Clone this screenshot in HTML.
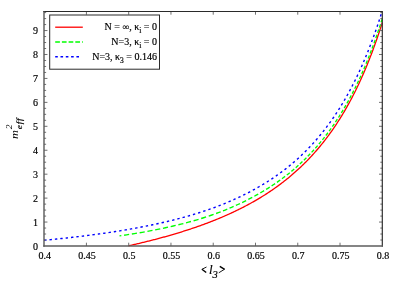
<!DOCTYPE html>
<html><head><meta charset="utf-8"><title>plot</title>
<style>
html,body{margin:0;padding:0;background:#fff;}
svg{display:block;will-change:transform;}
text{font-family:"Liberation Serif",serif;fill:#000;stroke:#000;stroke-width:0.18px;}
</style></head><body>
<svg width="399" height="281" viewBox="0 0 399 281">
<rect x="0" y="0" width="399" height="281" fill="#fff"/>
<path d="M128.40,245.85 L129.25,245.66 L130.10,245.47 L130.95,245.27 L131.80,245.08 L132.65,244.89 L133.49,244.69 L134.34,244.50 L135.19,244.30 L136.04,244.11 L136.89,243.91 L137.74,243.71 L138.59,243.51 L139.44,243.31 L140.29,243.10 L141.14,242.90 L141.99,242.70 L142.84,242.49 L143.68,242.29 L144.53,242.08 L145.38,241.87 L146.23,241.66 L147.08,241.45 L147.93,241.24 L148.78,241.03 L149.63,240.81 L150.48,240.60 L151.33,240.38 L152.18,240.16 L153.03,239.95 L153.87,239.73 L154.72,239.51 L155.57,239.28 L156.42,239.06 L157.27,238.84 L158.12,238.61 L158.97,238.39 L159.82,238.16 L160.67,237.93 L161.52,237.70 L162.37,237.47 L163.22,237.23 L164.06,237.00 L164.91,236.76 L165.76,236.53 L166.61,236.29 L167.46,236.05 L168.31,235.81 L169.16,235.57 L170.01,235.32 L170.86,235.08 L171.71,234.83 L172.56,234.59 L173.41,234.34 L174.25,234.09 L175.10,233.83 L175.95,233.58 L176.80,233.33 L177.65,233.07 L178.50,232.81 L179.35,232.55 L180.20,232.29 L181.05,232.03 L181.90,231.76 L182.75,231.50 L183.60,231.23 L184.44,230.96 L185.29,230.69 L186.14,230.42 L186.99,230.14 L187.84,229.87 L188.69,229.59 L189.54,229.31 L190.39,229.03 L191.24,228.75 L192.09,228.46 L192.94,228.18 L193.79,227.89 L194.63,227.60 L195.48,227.31 L196.33,227.02 L197.18,226.72 L198.03,226.42 L198.88,226.12 L199.73,225.82 L200.58,225.52 L201.43,225.21 L202.28,224.91 L203.13,224.60 L203.98,224.29 L204.82,223.97 L205.67,223.66 L206.52,223.34 L207.37,223.02 L208.22,222.70 L209.07,222.37 L209.92,222.05 L210.77,221.72 L211.62,221.39 L212.47,221.06 L213.32,220.72 L214.17,220.38 L215.01,220.04 L215.86,219.70 L216.71,219.36 L217.56,219.01 L218.41,218.66 L219.26,218.31 L220.11,217.95 L220.96,217.59 L221.81,217.23 L222.66,216.87 L223.51,216.51 L224.36,216.14 L225.20,215.77 L226.05,215.40 L226.90,215.02 L227.75,214.64 L228.60,214.26 L229.45,213.88 L230.30,213.49 L231.15,213.10 L232.00,212.70 L232.85,212.31 L233.70,211.91 L234.55,211.51 L235.39,211.10 L236.24,210.69 L237.09,210.28 L237.94,209.87 L238.79,209.45 L239.64,209.03 L240.49,208.61 L241.34,208.18 L242.19,207.75 L243.04,207.31 L243.89,206.88 L244.74,206.43 L245.58,205.99 L246.43,205.54 L247.28,205.09 L248.13,204.63 L248.98,204.17 L249.83,203.71 L250.68,203.24 L251.53,202.77 L252.38,202.30 L253.23,201.82 L254.08,201.34 L254.93,200.85 L255.77,200.36 L256.62,199.87 L257.47,199.37 L258.32,198.86 L259.17,198.36 L260.02,197.84 L260.87,197.33 L261.72,196.81 L262.57,196.28 L263.42,195.75 L264.27,195.22 L265.12,194.68 L265.96,194.14 L266.81,193.59 L267.66,193.04 L268.51,192.48 L269.36,191.91 L270.21,191.35 L271.06,190.77 L271.91,190.19 L272.76,189.61 L273.61,189.02 L274.46,188.43 L275.31,187.83 L276.15,187.22 L277.00,186.61 L277.85,186.00 L278.70,185.37 L279.55,184.75 L280.40,184.11 L281.25,183.47 L282.10,182.83 L282.95,182.18 L283.80,181.52 L284.65,180.85 L285.50,180.18 L286.34,179.51 L287.19,178.82 L288.04,178.13 L288.89,177.44 L289.74,176.73 L290.59,176.02 L291.44,175.30 L292.29,174.58 L293.14,173.85 L293.99,173.11 L294.84,172.36 L295.69,171.61 L296.53,170.85 L297.38,170.08 L298.23,169.30 L299.08,168.52 L299.93,167.72 L300.78,166.92 L301.63,166.11 L302.48,165.29 L303.33,164.47 L304.18,163.63 L305.03,162.79 L305.88,161.94 L306.72,161.08 L307.57,160.21 L308.42,159.33 L309.27,158.44 L310.12,157.54 L310.97,156.63 L311.82,155.71 L312.67,154.78 L313.52,153.84 L314.37,152.90 L315.22,151.94 L316.07,150.97 L316.91,149.99 L317.76,149.00 L318.61,147.99 L319.46,146.98 L320.31,145.96 L321.16,144.92 L322.01,143.87 L322.86,142.81 L323.71,141.74 L324.56,140.65 L325.41,139.56 L326.26,138.45 L327.10,137.32 L327.95,136.19 L328.80,135.04 L329.65,133.88 L330.50,132.70 L331.35,131.51 L332.20,130.30 L333.05,129.08 L333.90,127.85 L334.75,126.60 L335.60,125.34 L336.45,124.06 L337.29,122.76 L338.14,121.45 L338.99,120.13 L339.84,118.78 L340.69,117.42 L341.54,116.05 L342.39,114.65 L343.24,113.24 L344.09,111.81 L344.94,110.36 L345.79,108.89 L346.64,107.41 L347.48,105.90 L348.33,104.38 L349.18,102.84 L350.03,101.27 L350.88,99.69 L351.73,98.08 L352.58,96.45 L353.43,94.81 L354.28,93.14 L355.13,91.44 L355.98,89.73 L356.83,87.99 L357.67,86.23 L358.52,84.44 L359.37,82.63 L360.22,80.79 L361.07,78.93 L361.92,77.04 L362.77,75.13 L363.62,73.19 L364.47,71.22 L365.32,69.22 L366.17,67.20 L367.02,65.14 L367.86,63.06 L368.71,60.95 L369.56,58.80 L370.41,56.63 L371.26,54.42 L372.11,52.18 L372.96,49.91 L373.81,47.60 L374.66,45.26 L375.51,42.88 L376.36,40.47 L377.21,38.02 L378.05,35.53 L378.90,33.01 L379.75,30.45 L380.60,27.84 L381.45,25.20 L382.30,22.51" fill="none" stroke="#f00" stroke-width="1.3"/>
<path d="M119.50,235.88 L121.34,235.62 M124.10,235.22 L126.60,234.84 L129.16,234.45 M131.85,234.03 L134.42,233.61 L136.98,233.19 M139.67,232.74 L142.17,232.31 L144.74,231.85 M147.43,231.37 L149.93,230.90 L152.49,230.42 M155.18,229.89 L157.68,229.39 L160.24,228.87 M162.94,228.31 L165.44,227.77 L168.00,227.21 M170.69,226.60 L173.19,226.03 L175.69,225.44 M178.38,224.78 L180.88,224.16 L183.38,223.53 M186.01,222.84 L188.50,222.17 L191.00,221.49 M193.63,220.75 L196.06,220.04 L198.56,219.30 M201.19,218.50 L203.62,217.74 L206.11,216.94 M208.74,216.07 L211.17,215.25 L213.61,214.40 M216.10,213.50 L218.34,212.68 L220.64,211.81 M223.00,210.89 L225.11,210.06 L227.27,209.17 M229.51,208.24 L231.55,207.37 L233.65,206.45 M235.88,205.44 L237.92,204.51 L239.96,203.56 M242.13,202.52 L244.10,201.56 L246.14,200.54 M248.30,199.44 L250.28,198.42 L252.25,197.37 M254.35,196.24 L256.26,195.19 L258.23,194.08 M260.33,192.88 L262.24,191.76 L264.14,190.63 M266.11,189.42 L267.89,188.32 L269.73,187.15 M271.63,185.92 L273.34,184.79 L275.12,183.59 M276.96,182.33 L278.60,181.17 L280.24,180.00 M282.02,178.70 L283.53,177.58 L285.11,176.38 M286.81,175.06 L288.26,173.92 L289.77,172.71 M291.41,171.36 L292.79,170.21 L294.24,168.98 M295.75,167.68 L297.07,166.52 L298.45,165.28 M299.89,163.97 L302.45,161.57 M303.90,160.18 L306.40,157.73 M307.78,156.33 L310.27,153.75 M311.59,152.35 L314.02,149.71 M315.33,148.24 L317.64,145.61 M318.88,144.15 L321.18,141.38 M322.43,139.85 L324.60,137.12 M325.85,135.51 L327.95,132.73 M329.14,131.13 L331.17,128.31 M332.36,126.64 L334.33,123.78 M335.44,122.13 L337.35,119.24 M338.47,117.51 L340.31,114.60 M341.36,112.90 L343.20,109.86 M344.18,108.19 L345.96,105.13 M346.94,103.40 L348.65,100.33 M349.64,98.52 L351.28,95.44 M352.20,93.68 L353.78,90.60 M354.70,88.78 L356.21,85.71 M357.13,83.81 L358.58,80.76 M359.43,78.93 L360.88,75.77 M361.73,73.86 L363.11,70.73 M363.90,68.91 L365.28,65.66 M366.07,63.77 L367.38,60.56 M368.17,58.61 L369.42,55.45 M370.14,53.59 L371.39,50.33 M372.11,48.41 L373.30,45.21 M374.02,43.23 L375.20,39.92 M375.86,38.05 L376.98,34.83 M377.63,32.90 L378.75,29.58 M379.41,27.59 L380.46,24.36 M381.12,22.31 L382.10,19.18" fill="none" stroke="#0f0" stroke-width="1.35"/>
<path d="M44.15,240.27 L45.28,240.16 L46.41,240.05 L47.54,239.94 L48.67,239.83 L49.80,239.72 L50.94,239.61 L52.07,239.50 L53.20,239.39 L54.33,239.27 L55.46,239.16 L56.59,239.04 L57.72,238.92 L58.85,238.81 L59.98,238.69 L61.11,238.57 L62.24,238.45 L63.38,238.33 L64.51,238.21 L65.64,238.08 L66.77,237.96 L67.90,237.83 L69.03,237.71 L70.16,237.58 L71.29,237.45 L72.42,237.32 L73.55,237.19 L74.69,237.06 L75.82,236.93 L76.95,236.80 L78.08,236.66 L79.21,236.53 L80.34,236.39 L81.47,236.25 L82.60,236.11 L83.73,235.97 L84.86,235.83 L85.99,235.69 L87.13,235.55 L88.26,235.40 L89.39,235.26 L90.52,235.11 L91.65,234.96 L92.78,234.81 L93.91,234.66 L95.04,234.51 L96.17,234.36 L97.30,234.20 L98.43,234.05 L99.57,233.89 L100.70,233.73 L101.83,233.57 L102.96,233.41 L104.09,233.25 L105.22,233.09 L106.35,232.92 L107.48,232.75 L108.61,232.59 L109.74,232.42 L110.88,232.25 L112.01,232.07 L113.14,231.90 L114.27,231.73 L115.40,231.55 L116.53,231.37 L117.66,231.19 L118.79,231.01 L119.92,230.83 L121.05,230.64 L122.18,230.46 L123.32,230.27 L124.45,230.08 L125.58,229.89 L126.71,229.69 L127.84,229.50 L128.97,229.30 L130.10,229.11 L131.23,228.91 L132.36,228.70 L133.49,228.50 L134.62,228.30 L135.76,228.09 L136.89,227.88 L138.02,227.67 L139.15,227.46 L140.28,227.24 L141.41,227.03 L142.54,226.81 L143.67,226.59 L144.80,226.36 L145.93,226.14 L147.07,225.91 L148.20,225.68 L149.33,225.45 L150.46,225.22 L151.59,224.98 L152.72,224.75 L153.85,224.51 L154.98,224.27 L156.11,224.02 L157.24,223.77 L158.37,223.53 L159.51,223.27 L160.64,223.02 L161.77,222.76 L162.90,222.51 L164.03,222.24 L165.16,221.98 L166.29,221.72 L167.42,221.45 L168.55,221.18 L169.68,220.90 L170.81,220.63 L171.95,220.35 L173.08,220.06 L174.21,219.78 L175.34,219.49 L176.47,219.20 L177.60,218.91 L178.73,218.61 L179.86,218.31 L180.99,218.01 L182.12,217.70 L183.26,217.40 L184.39,217.08 L185.52,216.77 L186.65,216.45 L187.78,216.13 L188.91,215.81 L190.04,215.48 L191.17,215.15 L192.30,214.81 L193.43,214.48 L194.56,214.13 L195.70,213.79 L196.83,213.44 L197.96,213.09 L199.09,212.73 L200.22,212.37 L201.35,212.01 L202.48,211.64 L203.61,211.27 L204.74,210.89 L205.87,210.51 L207.00,210.13 L208.14,209.74 L209.27,209.34 L210.40,208.95 L211.53,208.55 L212.66,208.14 L213.79,207.73 L214.92,207.31 L216.05,206.89 L217.18,206.47 L218.31,206.04 L219.45,205.60 L220.58,205.16 L221.71,204.72 L222.84,204.27 L223.97,203.82 L225.10,203.35 L226.23,202.89 L227.36,202.42 L228.49,201.94 L229.62,201.46 L230.75,200.97 L231.89,200.48 L233.02,199.98 L234.15,199.47 L235.28,198.96 L236.41,198.45 L237.54,197.92 L238.67,197.39 L239.80,196.86 L240.93,196.32 L242.06,195.77 L243.19,195.22 L244.33,194.66 L245.46,194.09 L246.59,193.52 L247.72,192.94 L248.85,192.35 L249.98,191.76 L251.11,191.16 L252.24,190.56 L253.37,189.94 L254.50,189.32 L255.64,188.69 L256.77,188.06 L257.90,187.41 L259.03,186.76 L260.16,186.11 L261.29,185.44 L262.42,184.76 L263.55,184.08 L264.68,183.39 L265.81,182.69 L266.94,181.98 L268.08,181.27 L269.21,180.54 L270.34,179.80 L271.47,179.06 L272.60,178.31 L273.73,177.54 L274.86,176.77 L275.99,175.99 L277.12,175.19 L278.25,174.39 L279.38,173.57 L280.52,172.75 L281.65,171.91 L282.78,171.06 L283.91,170.20 L285.04,169.33 L286.17,168.45 L287.30,167.56 L288.43,166.65 L289.56,165.73 L290.69,164.80 L291.83,163.86 L292.96,162.90 L294.09,161.93 L295.22,160.95 L296.35,159.95 L297.48,158.94 L298.61,157.91 L299.74,156.87 L300.87,155.81 L302.00,154.74 L303.13,153.65 L304.27,152.55 L305.40,151.43 L306.53,150.30 L307.66,149.15 L308.79,147.98 L309.92,146.79 L311.05,145.59 L312.18,144.37 L313.31,143.13 L314.44,141.87 L315.57,140.60 L316.71,139.30 L317.84,137.98 L318.97,136.65 L320.10,135.29 L321.23,133.91 L322.36,132.51 L323.49,131.09 L324.62,129.64 L325.75,128.18 L326.88,126.69 L328.02,125.17 L329.15,123.63 L330.28,122.07 L331.41,120.48 L332.54,118.87 L333.67,117.23 L334.80,115.56 L335.93,113.87 L337.06,112.14 L338.19,110.39 L339.32,108.61 L340.46,106.80 L341.59,104.96 L342.72,103.08 L343.85,101.18 L344.98,99.24 L346.11,97.27 L347.24,95.26 L348.37,93.22 L349.50,91.14 L350.63,89.03 L351.76,86.88 L352.90,84.69 L354.03,82.46 L355.16,80.19 L356.29,77.88 L357.42,75.53 L358.55,73.13 L359.68,70.69 L360.81,68.21 L361.94,65.68 L363.07,63.10 L364.21,60.47 L365.34,57.79 L366.47,55.06 L367.60,52.28 L368.73,49.45 L369.86,46.56 L370.99,43.61 L372.12,40.61 L373.25,37.54 L374.38,34.42 L375.51,31.23 L376.65,27.98 L377.78,24.66 L378.91,21.27 L380.04,17.81 L381.17,14.29 L382.30,11.40" fill="none" stroke="#00f" stroke-width="1.4" stroke-dasharray="2.4 3"/>
<path d="M86.42,246.0 v-3.3 M86.42,11.4 v3.3 M128.69,246.0 v-3.3 M128.69,11.4 v3.3 M170.96,246.0 v-3.3 M170.96,11.4 v3.3 M213.23,246.0 v-3.3 M213.23,11.4 v3.3 M255.49,246.0 v-3.3 M255.49,11.4 v3.3 M297.76,246.0 v-3.3 M297.76,11.4 v3.3 M340.03,246.0 v-3.3 M340.03,11.4 v3.3 M44.15,240.02 h2.0 M382.3,240.02 h-2.0 M44.15,234.03 h2.0 M382.3,234.03 h-2.0 M44.15,228.05 h2.0 M382.3,228.05 h-2.0 M44.15,222.06 h3.3 M382.3,222.06 h-3.3 M44.15,216.08 h2.0 M382.3,216.08 h-2.0 M44.15,210.09 h2.0 M382.3,210.09 h-2.0 M44.15,204.11 h2.0 M382.3,204.11 h-2.0 M44.15,198.12 h3.3 M382.3,198.12 h-3.3 M44.15,192.14 h2.0 M382.3,192.14 h-2.0 M44.15,186.15 h2.0 M382.3,186.15 h-2.0 M44.15,180.17 h2.0 M382.3,180.17 h-2.0 M44.15,174.18 h3.3 M382.3,174.18 h-3.3 M44.15,168.20 h2.0 M382.3,168.20 h-2.0 M44.15,162.21 h2.0 M382.3,162.21 h-2.0 M44.15,156.23 h2.0 M382.3,156.23 h-2.0 M44.15,150.24 h3.3 M382.3,150.24 h-3.3 M44.15,144.26 h2.0 M382.3,144.26 h-2.0 M44.15,138.28 h2.0 M382.3,138.28 h-2.0 M44.15,132.29 h2.0 M382.3,132.29 h-2.0 M44.15,126.31 h3.3 M382.3,126.31 h-3.3 M44.15,120.32 h2.0 M382.3,120.32 h-2.0 M44.15,114.34 h2.0 M382.3,114.34 h-2.0 M44.15,108.35 h2.0 M382.3,108.35 h-2.0 M44.15,102.37 h3.3 M382.3,102.37 h-3.3 M44.15,96.38 h2.0 M382.3,96.38 h-2.0 M44.15,90.40 h2.0 M382.3,90.40 h-2.0 M44.15,84.41 h2.0 M382.3,84.41 h-2.0 M44.15,78.43 h3.3 M382.3,78.43 h-3.3 M44.15,72.44 h2.0 M382.3,72.44 h-2.0 M44.15,66.46 h2.0 M382.3,66.46 h-2.0 M44.15,60.47 h2.0 M382.3,60.47 h-2.0 M44.15,54.49 h3.3 M382.3,54.49 h-3.3 M44.15,48.51 h2.0 M382.3,48.51 h-2.0 M44.15,42.52 h2.0 M382.3,42.52 h-2.0 M44.15,36.54 h2.0 M382.3,36.54 h-2.0 M44.15,30.55 h3.3 M382.3,30.55 h-3.3 M44.15,24.57 h2.0 M382.3,24.57 h-2.0 M44.15,18.58 h2.0 M382.3,18.58 h-2.0 M44.15,12.60 h2.0 M382.3,12.60 h-2.0" fill="none" stroke="#707070" stroke-width="1"/>
<path d="M43.3,11.450000000000001 H382.85" fill="none" stroke="#2a2a2a" stroke-width="1.15"/>
<path d="M382.3,11.4 V246.7" fill="none" stroke="#2a2a2a" stroke-width="1.15"/>
<path d="M44.0,10.9 V246.7" fill="none" stroke="#4c4c4c" stroke-width="1.3"/>
<path d="M43.3,246.0 H382.85" fill="none" stroke="#5c5c5c" stroke-width="1.3"/>
<text x="44.75" y="258.9" font-size="10" text-anchor="middle">0.4</text>
<text x="87.02" y="258.9" font-size="10" text-anchor="middle">0.45</text>
<text x="129.29" y="258.9" font-size="10" text-anchor="middle">0.5</text>
<text x="171.56" y="258.9" font-size="10" text-anchor="middle">0.55</text>
<text x="213.83" y="258.9" font-size="10" text-anchor="middle">0.6</text>
<text x="256.09" y="258.9" font-size="10" text-anchor="middle">0.65</text>
<text x="298.36" y="258.9" font-size="10" text-anchor="middle">0.7</text>
<text x="340.63" y="258.9" font-size="10" text-anchor="middle">0.75</text>
<text x="382.90" y="258.9" font-size="10" text-anchor="middle">0.8</text>
<text x="38.0" y="249.55" font-size="10" text-anchor="end">0</text>
<text x="38.0" y="225.61" font-size="10" text-anchor="end">1</text>
<text x="38.0" y="201.67" font-size="10" text-anchor="end">2</text>
<text x="38.0" y="177.73" font-size="10" text-anchor="end">3</text>
<text x="38.0" y="153.79" font-size="10" text-anchor="end">4</text>
<text x="38.0" y="129.86" font-size="10" text-anchor="end">5</text>
<text x="38.0" y="105.92" font-size="10" text-anchor="end">6</text>
<text x="38.0" y="81.98" font-size="10" text-anchor="end">7</text>
<text x="38.0" y="58.04" font-size="10" text-anchor="end">8</text>
<text x="38.0" y="34.10" font-size="10" text-anchor="end">9</text>
<path d="M206.5,267.0 L201.9,269.3" stroke="#000" stroke-width="0.9" fill="none"/>
<path d="M201.9,269.2 L206.2,272.5" stroke="#000" stroke-width="1.4" fill="none"/>
<path d="M219.8,266.3 L224.6,269.3" stroke="#000" stroke-width="1.4" fill="none"/>
<path d="M224.6,269.2 L218.8,272.8" stroke="#000" stroke-width="0.9" fill="none"/>
<text x="208.9" y="273.7" font-size="13" font-style="italic">l</text>
<text x="212.6" y="277.9" font-size="10.5" font-style="italic">3</text>
<text transform="translate(17.5,138.9) rotate(-90) scale(1.3,1)" font-size="9.5" font-style="italic" style="stroke:none">m</text>
<text transform="translate(21.7,129.2) rotate(-90) scale(1.25,1)" font-size="7.5" font-style="italic" letter-spacing="0.6">eff</text>
<text transform="translate(11.6,129.3) rotate(-90) scale(1.05,1)" font-size="9" font-style="italic" style="stroke:none">2</text>
<rect x="49.7" y="15" width="109.8" height="54.2" fill="#fff" stroke="#2a2a2a" stroke-width="1"/>
<path d="M55.2,27.2 H82.8" stroke="#f00" stroke-width="1.3"/>
<path d="M55.2,42.1 H82.8" stroke="#0f0" stroke-width="1.5" stroke-dasharray="4.7 2"/>
<path d="M55.2,56.8 H80" stroke="#00f" stroke-width="1.5" stroke-dasharray="2.6 2.7"/>
<text x="157" y="30.3" font-size="10" text-anchor="end">N = <tspan font-size="9.5">∞</tspan>, κ<tspan font-size="7.5" dy="2.6">i</tspan><tspan dy="-2.6"> = 0</tspan></text>
<text x="157" y="45.2" font-size="10" text-anchor="end">N=3, κ<tspan font-size="7.5" dy="2.6">i</tspan><tspan dy="-2.6"> = 0</tspan></text>
<text x="157" y="60" font-size="10" text-anchor="end">N=3, κ<tspan font-size="7.5" dy="2.8">3</tspan><tspan dy="-2.8"> = 0.146</tspan></text>
</svg></body></html>
